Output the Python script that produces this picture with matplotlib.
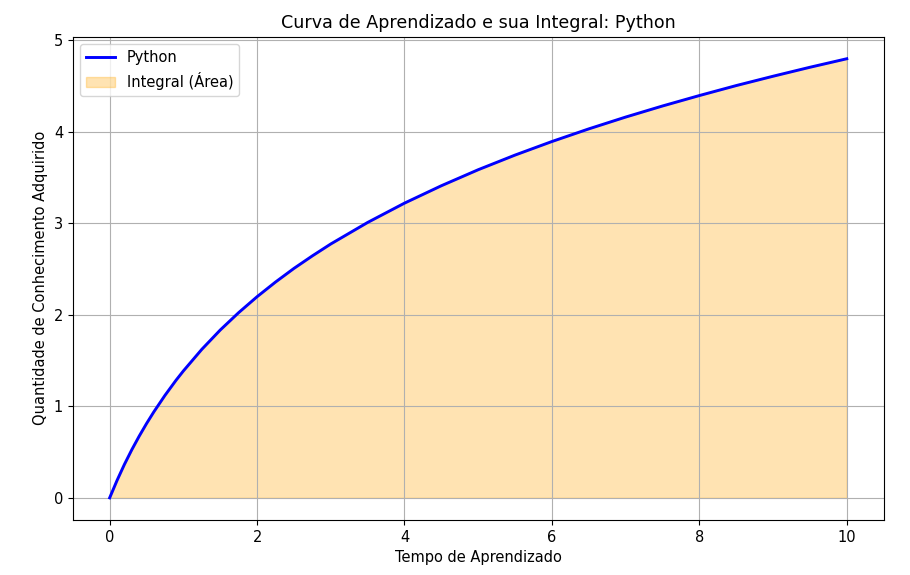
import matplotlib
matplotlib.use("Agg")
import matplotlib.pyplot as plt

# values (denser where it bends most)
tempo = [0, 0.1, 0.2, 0.3, 0.4, 0.5, 0.6, 0.75, 0.9, 1, 1.25, 1.5, 1.75, 2,
         2.25, 2.5, 2.75, 3, 3.5, 4, 4.5, 5, 5.5, 6, 6.5, 7, 7.5, 8, 8.5, 9,
         9.5, 10]
conhecimento = [0, 0.19, 0.365, 0.525, 0.673, 0.811, 0.94, 1.119, 1.284, 1.386,
                1.622, 1.833, 2.023, 2.197, 2.357, 2.506, 2.643, 2.773, 3.008,
                3.219, 3.409, 3.584, 3.744, 3.892, 4.03, 4.159, 4.28, 4.394,
                4.503, 4.605, 4.703, 4.796]

x_ticks = [0, 2, 4, 6, 8, 10]
y_ticks = [0, 1, 2, 3, 4, 5]

plt.rcParams['font.size'] = 10.5

fig, ax = plt.subplots(figsize=(9.1, 5.75), dpi=100)
fig.subplots_adjust(left=0.080, right=0.971, top=0.936, bottom=0.096)

ax.plot(tempo, conhecimento, color='blue', linewidth=2.1, label='Python')
ax.fill_between(tempo, conhecimento, color='orange', alpha=0.3, label='Integral (Área)')

ax.set_xticks(x_ticks)
ax.set_yticks(y_ticks)
ax.set_title('Curva de Aprendizado e sua Integral: Python')
ax.set_xlabel('Tempo de Aprendizado')
ax.set_ylabel('Quantidade de Conhecimento Adquirido')
ax.grid(True)
ax.legend(loc='upper left')

fig.savefig('out.png', dpi=100)
